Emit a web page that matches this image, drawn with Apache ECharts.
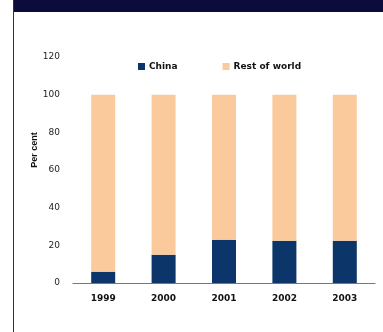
<!DOCTYPE html>
<html>
<head>
<meta charset="utf-8">
<script src="https://cdn.jsdelivr.net/npm/echarts@6/dist/echarts.min.js"></script>
<style>
  html, body { margin: 0; padding: 0; background: #fff; }
  #chart { width: 383px; height: 332px; }
</style>
</head>
<body>
<div id="chart"></div>
<script>
// data
var years = ['1999', '2000', '2001', '2002', '2003']
var china = [6, 15, 23, 22.5, 22.5]
var restOfWorld = [94, 85, 77, 77.5, 77.5]
var yTicks = { min: 0, max: 120, interval: 20 }

var chart = echarts.init(document.getElementById('chart'))
chart.setOption({
  animation: false,
  textStyle: { fontFamily: 'DejaVu Sans, Verdana, sans-serif' },
  graphic: [
    // dark header band and frame line on the left
    { type: 'rect', shape: { x: 13, y: 0, width: 370, height: 12 }, style: { fill: '#0b0b3c' } },
    { type: 'rect', shape: { x: 13, y: 0, width: 1, height: 332 }, style: { fill: '#333' } },
    {
      type: 'text',
      x: 35,
      y: 150,
      rotation: Math.PI / 2,
      style: {
        text: 'Per cent',
        fill: '#111',
        font: 'bold 9px Liberation Sans, Arial, sans-serif',
        align: 'center',
        verticalAlign: 'middle'
      }
    }
  ],
  legend: {
    top: 57,
    left: 133,
    itemWidth: 7,
    itemHeight: 7,
    itemGap: 45,
    icon: 'rect',
    textStyle: { fontSize: 9, fontWeight: 'bold', color: '#111', padding: [0, 0, 0, -1] },
    data: ['China', 'Rest of world']
  },
  grid: {
    left: 73,
    right: 8,
    top: 57,
    bottom: 49
  },
  xAxis: {
    type: 'category',
    data: years,
    axisLine: { lineStyle: { color: '#777', width: 1 } },
    axisTick: { show: false },
    axisLabel: { color: '#111', fontSize: 9, fontWeight: 'bold', margin: 11 }
  },
  yAxis: {
    type: 'value',
    min: yTicks.min,
    max: yTicks.max,
    interval: yTicks.interval,
    axisLine: { show: false },
    axisTick: { show: false },
    splitLine: { show: false },
    axisLabel: { color: '#222', fontSize: 9, margin: 13 }
  },
  series: [
    {
      name: 'China',
      type: 'bar',
      stack: 'total',
      barWidth: 24,
      itemStyle: { color: '#0c3569' },
      data: china
    },
    {
      name: 'Rest of world',
      type: 'bar',
      stack: 'total',
      barWidth: 24,
      itemStyle: { color: '#fac99c' },
      data: restOfWorld
    }
  ]
})
</script>
</body>
</html>
